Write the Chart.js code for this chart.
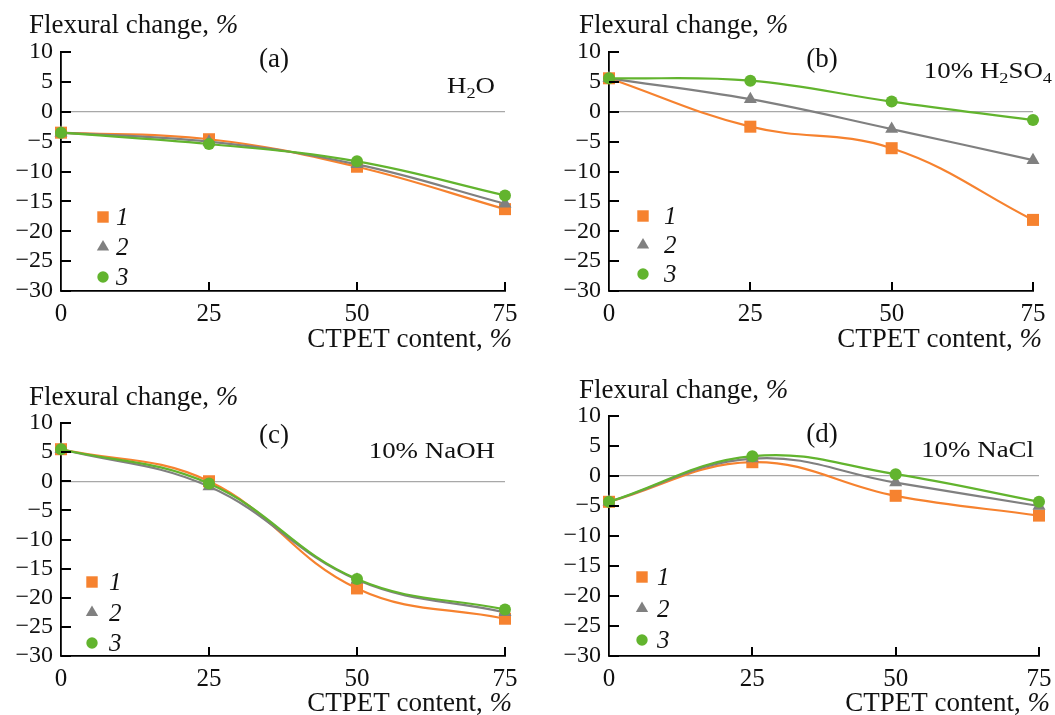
<!DOCTYPE html>
<html>
<head>
<meta charset="utf-8">
<script src="https://cdn.jsdelivr.net/npm/chart.js@4.4.1/dist/chart.umd.min.js"></script>
<style>
  html, body { margin: 0; padding: 0; background: #fff; }
  #wrap { position: relative; width: 1055px; height: 715px; overflow: hidden; }
  #wrap canvas { position: absolute; left: 0; top: 0; }
</style>
</head>
<body>
<div id="wrap">
  <canvas id="panelA" width="1055" height="715"></canvas>
  <canvas id="panelB" width="1055" height="715"></canvas>
  <canvas id="panelC" width="1055" height="715"></canvas>
  <canvas id="panelD" width="1055" height="715"></canvas>
</div>
<script>
// CTPET content, % (x axis)
const contentPct = [0, 25, 50, 75];
const xTickValues = [0, 25, 50, 75];
const yTickValues = [-30, -25, -20, -15, -10, -5, 0, 5, 10];
const seriesNames = ['1', '2', '3'];

// flexural change, % — water
const waterS1 = [-3.5, -4.6, -9.2, -16.3];
const waterS2 = [-3.5, -5.0, -8.8, -15.4];
const waterS3 = [-3.5, -5.4, -8.3, -14.0];

// 10% H2SO4
const acidS1 = [5.6, -2.5, -6.1, -18.1];
const acidS2 = [5.6, 2.1, -2.9, -8.1];
const acidS3 = [5.6, 5.2, 1.7, -1.4];

// 10% NaOH
const alkaliS1 = [5.5, 0.0, -18.4, -23.6];
const alkaliS2 = [5.5, -0.9, -16.9, -22.5];
const alkaliS3 = [5.5, -0.4, -16.8, -22.0];

// 10% NaCl
const saltS1 = [-4.3, 2.3, -3.3, -6.6];
const saltS2 = [-4.3, 2.9, -1.1, -5.0];
const saltS3 = [-4.3, 3.3, 0.3, -4.3];

const W = 1055, H = 715;
const Y_AXIS_W = 60, X_AXIS_H = 40;
const FONT = '"Liberation Serif", "DejaVu Serif", serif';
const COLORS = ['#f6822f', '#808080', '#62b42e'];
const STYLES = ['rect', 'triangle', 'circle'];
const RADII = [8.5, 7.5, 6];

const panels = [
  {
    id: 'panelA', tag: '(a)', series: [waterS1, waterS2, waterS3],
    medium: [{ t: 'H' }, { t: '2', sub: true }, { t: 'O' }],
    area: { left: 61, right: 505, top: 52, bottom: 291 },
    tagPos: [274, 67], mediumPos: [495, 93],
    yTitle: [29, 33], xTitle: [512, 347],
    legend: { x: 103, y: 217, step: 30, textX: 116 }
  },
  {
    id: 'panelB', tag: '(b)', series: [acidS1, acidS2, acidS3],
    medium: [{ t: '10% H' }, { t: '2', sub: true }, { t: 'SO' }, { t: '4', sub: true }],
    area: { left: 609, right: 1033, top: 52, bottom: 291 },
    tagPos: [822, 67], mediumPos: [1052, 78],
    yTitle: [579, 33], xTitle: [1042, 347],
    legend: { x: 643, y: 216, step: 29, textX: 664 }
  },
  {
    id: 'panelC', tag: '(c)', series: [alkaliS1, alkaliS2, alkaliS3],
    medium: [{ t: '10% NaOH' }],
    area: { left: 61, right: 505, top: 423, bottom: 656 },
    tagPos: [274, 443], mediumPos: [495, 458],
    yTitle: [29, 405], xTitle: [512, 711],
    legend: { x: 92, y: 582, step: 30.5, textX: 109 }
  },
  {
    id: 'panelD', tag: '(d)', series: [saltS1, saltS2, saltS3],
    medium: [{ t: '10% NaCl' }],
    area: { left: 609, right: 1039, top: 416, bottom: 656 },
    tagPos: [822, 442], mediumPos: [1034, 457],
    yTitle: [579, 398], xTitle: [1050, 711],
    legend: { x: 642, y: 577, step: 31.5, textX: 657 }
  }
];

// text made of runs, with optional subscripts, italics and horizontal stretch
function setFont(ctx, p, size) {
  ctx.font = (p.italic ? 'italic ' : '') + (p.sub ? size * 0.68 : size) + 'px ' + FONT;
}

function richWidth(ctx, parts, size) {
  let w = 0;
  parts.forEach(p => { setFont(ctx, p, size); w += ctx.measureText(p.t).width; });
  return w;
}

function drawRich(ctx, parts, x, y, size, align, stretch) {
  const sx = stretch || 1;
  const w = richWidth(ctx, parts, size) * sx;
  let start = x;
  if (align === 'right') start = x - w;
  if (align === 'center') start = x - w / 2;
  ctx.save();
  ctx.translate(start, y);
  ctx.scale(sx, 1);
  let cx = 0;
  parts.forEach(p => {
    setFont(ctx, p, size);
    ctx.fillText(p.t, cx, p.sub ? size * 0.22 : 0);
    cx += ctx.measureText(p.t).width;
  });
  ctx.restore();
}

function drawMarker(ctx, style, x, y, r, color) {
  ctx.fillStyle = color;
  ctx.beginPath();
  if (style === 'rect') {
    const s = r * Math.SQRT1_2;
    ctx.rect(x - s, y - s, 2 * s, 2 * s);
  } else if (style === 'triangle') {
    ctx.moveTo(x, y - r);
    ctx.lineTo(x + r * 0.866, y + r * 0.5);
    ctx.lineTo(x - r * 0.866, y + r * 0.5);
    ctx.closePath();
  } else {
    ctx.arc(x, y, r, 0, Math.PI * 2);
  }
  ctx.fill();
}

function makeDecor(panel) {
  return {
    id: 'decor',
    afterDraw(chart) {
      const ctx = chart.ctx;
      const area = chart.chartArea;
      const xs = chart.scales.x, ys = chart.scales.y;
      ctx.save();

      // tick marks pointing into the plot
      ctx.fillStyle = '#000';
      yTickValues.forEach(v => {
        const py = Math.round(ys.getPixelForValue(v));
        ctx.fillRect(area.left, py - 1, 10, 2);
      });
      xTickValues.forEach(v => {
        if (v === 0) return;
        const px = Math.round(xs.getPixelForValue(v));
        ctx.fillRect(px - 1, area.bottom - 9, 2, 9);
      });

      ctx.fillStyle = '#111';
      ctx.textBaseline = 'alphabetic';
      // axis titles
      drawRich(ctx, [{ t: 'Flexural change, ' }, { t: '%', italic: true }],
        panel.yTitle[0], panel.yTitle[1], 27, 'left');
      drawRich(ctx, [{ t: 'CTPET content, ' }, { t: '%', italic: true }],
        panel.xTitle[0], panel.xTitle[1], 27, 'right');
      // panel letter and medium
      drawRich(ctx, [{ t: panel.tag }], panel.tagPos[0], panel.tagPos[1], 27, 'center');
      drawRich(ctx, panel.medium, panel.mediumPos[0], panel.mediumPos[1], 23, 'right', 1.17);
      // legend
      const lg = panel.legend;
      seriesNames.forEach((name, i) => {
        const my = lg.y + i * lg.step;
        drawMarker(ctx, STYLES[i], lg.x, my, RADII[i] * 0.95, COLORS[i]);
        ctx.fillStyle = '#111';
        drawRich(ctx, [{ t: name, italic: true }], lg.textX, my + 8, 25, 'left');
      });
      ctx.restore();
    }
  };
}

panels.forEach(panel => {
  const a = panel.area;
  const datasets = panel.series.map((vals, i) => ({
    label: seriesNames[i],
    data: contentPct.map((x, k) => ({ x: x, y: vals[k] })),
    borderColor: COLORS[i],
    backgroundColor: COLORS[i],
    borderWidth: 2.2,
    pointStyle: STYLES[i],
    pointRadius: RADII[i],
    pointBorderWidth: 0,
    tension: 0.4,
    clip: false,
    order: 2 - i
  }));

  new Chart(document.getElementById(panel.id), {
    type: 'line',
    data: { datasets: datasets },
    options: {
      responsive: false,
      animation: false,
      events: [],
      layout: {
        padding: {
          left: a.left - Y_AXIS_W,
          right: W - a.right,
          top: a.top,
          bottom: H - a.bottom - X_AXIS_H
        }
      },
      plugins: { legend: { display: false }, tooltip: { enabled: false } },
      scales: {
        x: {
          type: 'linear', min: 0, max: 75,
          afterBuildTicks: s => { s.ticks = xTickValues.map(v => ({ value: v })); },
          afterFit: s => { s.height = X_AXIS_H; },
          grid: { display: false },
          border: { display: true, color: '#000', width: 1.8 },
          ticks: { color: '#111', padding: 0, maxRotation: 0, autoSkip: false, font: { family: FONT, size: 25 } }
        },
        y: {
          type: 'linear', min: -30, max: 10,
          afterBuildTicks: s => { s.ticks = yTickValues.map(v => ({ value: v })); },
          afterFit: s => { s.width = Y_AXIS_W; },
          grid: {
            drawTicks: false,
            lineWidth: 1.2,
            color: c => (c.tick && c.tick.value === 0 ? '#a8a8a8' : 'rgba(0,0,0,0)')
          },
          border: { display: true, color: '#000', width: 1.8 },
          ticks: {
            color: '#111', padding: 8, autoSkip: false,
            font: { family: FONT, size: 24 },
            callback: v => String(v).replace('-', '\u2212')
          }
        }
      }
    },
    plugins: [makeDecor(panel)]
  });
});
</script>
</body>
</html>
